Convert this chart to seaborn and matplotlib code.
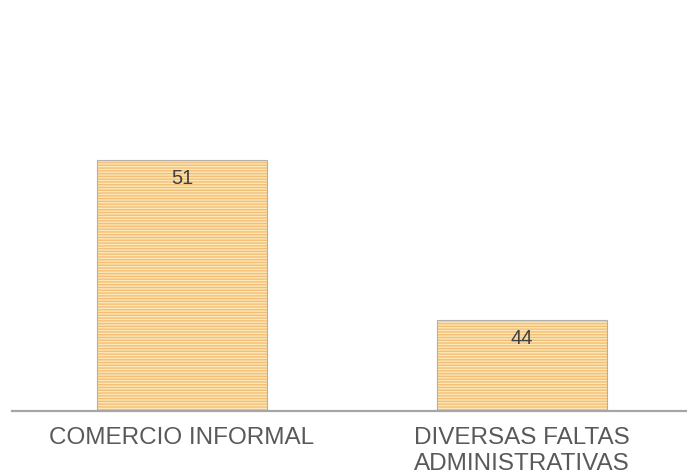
import matplotlib
matplotlib.use("Agg")
import matplotlib.pyplot as plt
from matplotlib.patches import Rectangle
import seaborn as sns
import pandas as pd

categories = ["COMERCIO INFORMAL", "DIVERSAS FALTAS\nADMINISTRATIVAS"]
values = [51, 44]

df = pd.DataFrame({"cat": categories, "val": values})

sns.set_theme(style="white")
plt.rcParams['font.family'] = ['Liberation Sans', 'DejaVu Sans']
plt.rcParams['hatch.linewidth'] = 1.0

fig = plt.figure(figsize=(6.87, 4.75), dpi=100)
ax = fig.add_axes([12/687, 64/475, 680/687, 411/475])

sns.barplot(data=df, x="cat", y="val", ax=ax, color="#fde7b5",
            saturation=1, width=0.5)

for p in list(ax.patches):
    p.set_facecolor("#fde7b5")
    p.set_hatch("------")
    p.set_edgecolor("#f3bf78")
    p.set_linewidth(0)
    ax.add_patch(Rectangle((p.get_x(), p.get_y()), p.get_width(), p.get_height(),
                           fill=False, edgecolor="#b0b0b0", linewidth=0.8,
                           zorder=p.get_zorder() + 0.1))

ax.set_ylim(40, 58)
ax.set_xlim(-0.5, 1.5)

for i, v in enumerate(values):
    ax.annotate(str(v), xy=(i, v), xytext=(0, -6.5), textcoords="offset points",
                ha="center", va="top", fontsize=14.5, color="#404040")

ax.set_xlabel("")
ax.set_ylabel("")
ax.set_yticks([])
ax.tick_params(axis="x", length=0, pad=11.5, labelsize=17.5, labelcolor="#595959")
for lbl in ax.get_xticklabels():
    lbl.set_linespacing(1.22)
for s in ["top", "right", "left"]:
    ax.spines[s].set_visible(False)
ax.spines["bottom"].set_color("#a6a6a6")
ax.spines["bottom"].set_linewidth(1.6)

fig.savefig("out.png", dpi=100)
